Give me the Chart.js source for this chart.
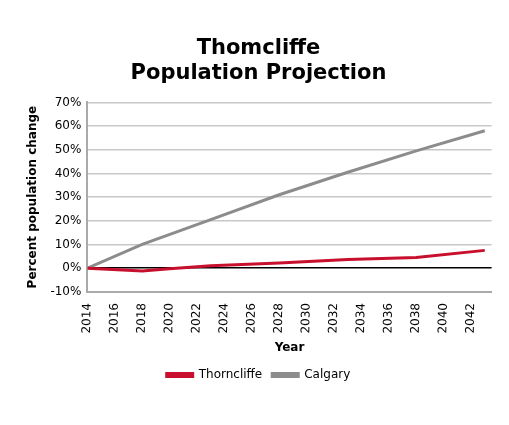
<!DOCTYPE html>
<html>
<head>
<script src="https://cdn.jsdelivr.net/npm/chart.js@4"></script>
<style>
body { margin: 0; background: #fff; }
#wrap { width: 509px; height: 425px; }
</style>
</head>
<body>
<div id="wrap"><canvas id="chart"></canvas></div>
<script>
const years = [2014, 2018, 2020, 2023, 2028, 2033, 2038, 2043];
const thorncliffe = [0, -1.2, -0.3, 1, 2.2, 3.6, 4.5, 7.5];
const calgaryYears = [2014, 2018, 2023, 2028, 2033, 2038, 2043];
const calgary = [0, 10, 20.5, 31, 40.5, 49.5, 58];

Chart.defaults.font.family = "DejaVu Sans";
Chart.defaults.color = "#000";

const ctx = document.getElementById("chart").getContext("2d");
new Chart(ctx, {
    type: "line",
    data: {
        datasets: [{
            label: "Thorncliffe",
            data: years.map((y, i) => ({ x: y, y: thorncliffe[i] })),
            borderColor: "#c8102e",
            backgroundColor: "#c8102e",
            borderWidth: 3,
            pointRadius: 0,
            tension: 0
        }, {
            label: "Calgary",
            data: calgaryYears.map((y, i) => ({ x: y, y: calgary[i] })),
            borderColor: "#8c8c8c",
            backgroundColor: "#8c8c8c",
            borderWidth: 3,
            pointRadius: 0,
            tension: 0
        }]
    },
    options: {
        responsive: true,
        maintainAspectRatio: false,
        animation: false,
        layout: { padding: { left: 22, right: 14, top: 36, bottom: 34 } },
        plugins: {
            title: {
                display: true,
                text: ["Thomcliffe", "Population Projection"],
                font: { size: 21, weight: "bold" },
                padding: { bottom: 16 },
                lineHeight: 1.25
            },
            legend: {
                position: "bottom",
                labels: { boxWidth: 26, boxHeight: 3, font: { size: 12 }, padding: 10 }
            },
            tooltip: { enabled: false }
        },
        scales: {
            x: {
                type: "linear",
                min: 2014,
                max: 2043.5,
                grid: { display: false },
                border: { color: "#aaa", width: 2 },
                ticks: {
                    stepSize: 2,
                    maxRotation: 90,
                    minRotation: 89,
                    font: { size: 12 },
                    callback: v => (v % 2 === 0 ? String(v) : "")
                },
                title: { display: true, text: "Year", font: { size: 12, weight: "bold" } }
            },
            y: {
                min: -10,
                max: 70,
                ticks: { stepSize: 10, font: { size: 12 }, padding: 6, callback: v => v + "%" },
                grid: {
                    color: ctx => (ctx.tick.value === 0 ? "#000" : "#c8c8c8"),
                    lineWidth: 1.5,
                    drawTicks: false
                },
                border: { color: "#aaa", width: 2 },
                title: { display: true, text: "Percent population change", font: { size: 12, weight: "bold" }, padding: 4 }
            }
        }
    }
});
</script>
</body>
</html>
